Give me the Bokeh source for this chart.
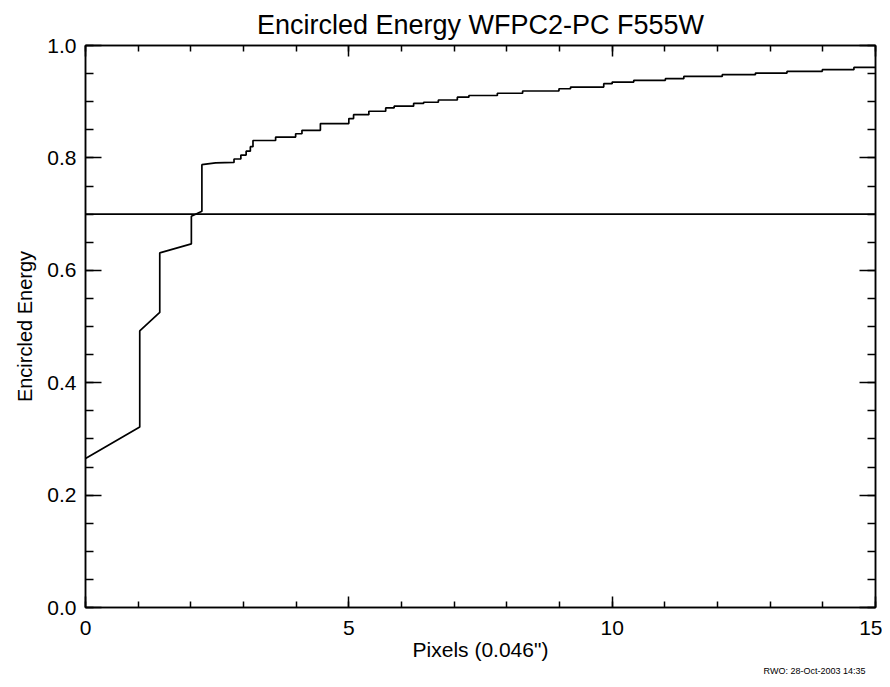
from bokeh.plotting import figure
from bokeh.models import (Range1d, LinearAxis, SingleIntervalTicker, PrintfTickFormatter,
                          CustomJSTickFormatter, Span, Title)
from bokeh.embed import file_html
from bokeh.resources import INLINE

# ---- data ----
ee_x = [0.00, 1.03, 1.03, 1.41, 1.41, 2.01, 2.01, 2.21, 2.21, 2.47, 2.82, 2.82,
        2.95, 2.95, 3.05, 3.05, 3.13, 3.13, 3.18, 3.18, 3.61, 3.61, 3.99, 3.99,
        4.11, 4.11, 4.46, 4.46, 5.00, 5.00, 5.09, 5.09, 5.38, 5.38, 5.70, 5.70,
        5.86, 5.86, 6.23, 6.23, 6.42, 6.42, 6.70, 6.70, 7.06, 7.06, 7.28, 7.28,
        7.82, 7.82, 8.30, 8.30, 8.99, 8.99, 9.21, 9.21, 9.84, 9.84, 10.00, 10.00,
        10.41, 10.41, 11.01, 11.01, 11.36, 11.36, 12.09, 12.09, 12.72, 12.72,
        13.32, 13.32, 13.99, 13.99, 14.59, 14.59, 15.00]
ee_y = [0.265, 0.321, 0.492, 0.525, 0.631, 0.647, 0.696, 0.705, 0.788, 0.791, 0.792, 0.798,
        0.798, 0.805, 0.805, 0.812, 0.812, 0.820, 0.820, 0.831, 0.831, 0.837, 0.837, 0.843,
        0.843, 0.849, 0.849, 0.861, 0.861, 0.870, 0.870, 0.877, 0.877, 0.883, 0.883, 0.889,
        0.889, 0.892, 0.892, 0.897, 0.897, 0.899, 0.899, 0.903, 0.903, 0.908, 0.908, 0.911,
        0.911, 0.915, 0.915, 0.919, 0.919, 0.923, 0.923, 0.926, 0.926, 0.932, 0.932, 0.935,
        0.935, 0.938, 0.938, 0.941, 0.941, 0.945, 0.945, 0.948, 0.948, 0.951,
        0.951, 0.954, 0.954, 0.957, 0.957, 0.961, 0.961]
ref_level = 0.70
title_text = "Encircled Energy WFPC2-PC F555W"
x_label = 'Pixels (0.046")'
y_label = "Encircled Energy"
footer_text = "RWO:     28-Oct-2003 14:35"

FONT = "Liberation Sans"

p = figure(width=882, height=679, output_backend="svg", toolbar_location=None,
           x_range=Range1d(0, 15), y_range=Range1d(0, 1),
           x_axis_type=None, y_axis_type=None,
           min_border_left=85, min_border_right=7, min_border_top=45, min_border_bottom=72)
p.background_fill_color = "white"
p.border_fill_color = "white"
p.outline_line_color = "black"
p.outline_line_width = 1.5

xt = SingleIntervalTicker(interval=5, num_minor_ticks=5)
yt = SingleIntervalTicker(interval=0.2, num_minor_ticks=4)


def style(ax, tick_major, tick_minor):
    ax.axis_line_color = "black"
    ax.axis_line_width = 1.5
    ax.major_tick_line_color = "black"
    ax.minor_tick_line_color = "black"
    ax.major_tick_line_width = 1.5
    ax.minor_tick_line_width = 1.5
    ax.major_tick_in = tick_major
    ax.major_tick_out = 0
    ax.minor_tick_in = tick_minor
    ax.minor_tick_out = 0
    ax.major_label_text_font = FONT
    ax.major_label_text_color = "black"
    ax.axis_label_text_font = FONT
    ax.axis_label_text_font_style = "normal"
    ax.axis_label_text_color = "black"


xb = LinearAxis(ticker=xt, axis_label=x_label)
style(xb, 11, 6)
xb.major_label_text_font_size = "21px"
xb.axis_label_text_font_size = "21px"
xb.major_label_standoff = 13
xb.axis_label_standoff = 0
p.add_layout(xb, "below")

yl = LinearAxis(ticker=yt, axis_label=y_label, formatter=PrintfTickFormatter(format="%.1f"))
style(yl, 16, 8)
yl.major_label_text_font_size = "21px"
yl.axis_label_text_font_size = "20px"
yl.major_label_standoff = 9
yl.axis_label_standoff = 8
p.add_layout(yl, "left")

blank = CustomJSTickFormatter(code="return ''")
xa = LinearAxis(ticker=xt, formatter=blank, major_label_standoff=0)
style(xa, 11, 6)
p.add_layout(xa, "above")

yr = LinearAxis(ticker=yt, formatter=blank, major_label_standoff=0)
style(yr, 16, 8)
p.add_layout(yr, "right")

p.line(ee_x, ee_y, line_color="black", line_width=1.7)
p.add_layout(Span(location=ref_level, dimension="width", line_color="black", line_width=1.7))

p.title.text = title_text
p.title.text_font = FONT
p.title.text_font_size = "27px"
p.title.text_font_style = "normal"
p.title.align = "center"
p.title.text_color = "black"
p.title.standoff = 12

foot = Title(text=footer_text, align="right", text_font=FONT, text_font_size="9px",
             text_font_style="normal", text_color="black", standoff=1)
p.add_layout(foot, "below")

open("out.html", "w").write(file_html(p, INLINE))
